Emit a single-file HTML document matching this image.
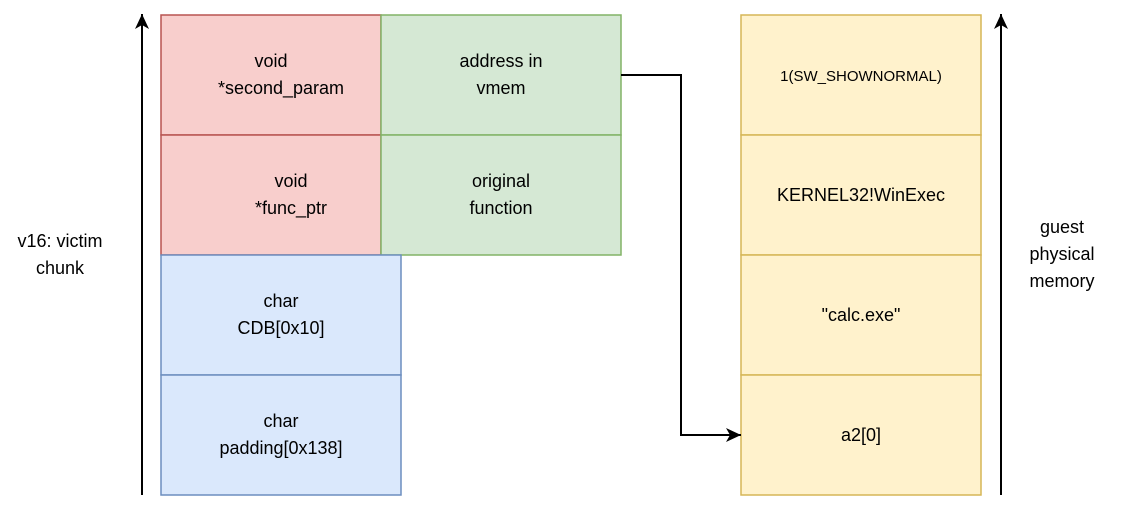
<!DOCTYPE html>
<html><head><style>
html,body{margin:0;padding:0;background:#fff;}
svg text{font-family:"Liberation Sans",Arial,sans-serif;font-size:18px;fill:#000;}
</style></head><body>
<svg width="1122" height="512" viewBox="0 0 1122 512" xmlns="http://www.w3.org/2000/svg">
<defs><marker id="a" markerWidth="16" markerHeight="16" refX="15" refY="7" orient="auto" markerUnits="userSpaceOnUse"><path d="M0,0 L15,7 L0,14 L4,7 z" fill="#000"/></marker></defs>
<g stroke-width="1.5">
<rect x="161" y="15" width="220" height="120" fill="#f8cecc" stroke="#b85450"/>
<rect x="161" y="135" width="220" height="120" fill="#f8cecc" stroke="#b85450"/>
<rect x="381" y="15" width="240" height="120" fill="#d5e8d4" stroke="#82b366"/>
<rect x="381" y="135" width="240" height="120" fill="#d5e8d4" stroke="#82b366"/>
<rect x="161" y="255" width="240" height="120" fill="#dae8fc" stroke="#6c8ebf"/>
<rect x="161" y="375" width="240" height="120" fill="#dae8fc" stroke="#6c8ebf"/>
<rect x="741" y="15" width="240" height="120" fill="#fff2cc" stroke="#d6b656"/>
<rect x="741" y="135" width="240" height="120" fill="#fff2cc" stroke="#d6b656"/>
<rect x="741" y="255" width="240" height="120" fill="#fff2cc" stroke="#d6b656"/>
<rect x="741" y="375" width="240" height="120" fill="#fff2cc" stroke="#d6b656"/>
</g>
<g stroke="#000" stroke-width="2" fill="none">
<line x1="142" y1="495" x2="142" y2="14" marker-end="url(#a)"/>
<line x1="1001" y1="495" x2="1001" y2="14" marker-end="url(#a)"/>
<polyline points="621,75 681,75 681,435 741,435" marker-end="url(#a)"/>
</g>
<g text-anchor="middle">
<text x="271" y="67">void</text><text x="281" y="94">*second_param</text>
<text x="501" y="67">address in</text><text x="501" y="94">vmem</text>
<text x="291" y="187">void</text><text x="291" y="214">*func_ptr</text>
<text x="501" y="187">original</text><text x="501" y="214">function</text>
<text x="281" y="307">char</text><text x="281" y="334">CDB[0x10]</text>
<text x="281" y="427">char</text><text x="281" y="454">padding[0x138]</text>
<text x="861" y="81" style="font-size:15px">1(SW_SHOWNORMAL)</text>
<text x="861" y="201">KERNEL32!WinExec</text>
<text x="861" y="321">"calc.exe"</text>
<text x="861" y="441">a2[0]</text>
<text x="60" y="247">v16: victim</text><text x="60" y="274">chunk</text>
<text x="1062" y="233">guest</text><text x="1062" y="260">physical</text><text x="1062" y="287">memory</text>
</g>
</svg>
</body></html>
